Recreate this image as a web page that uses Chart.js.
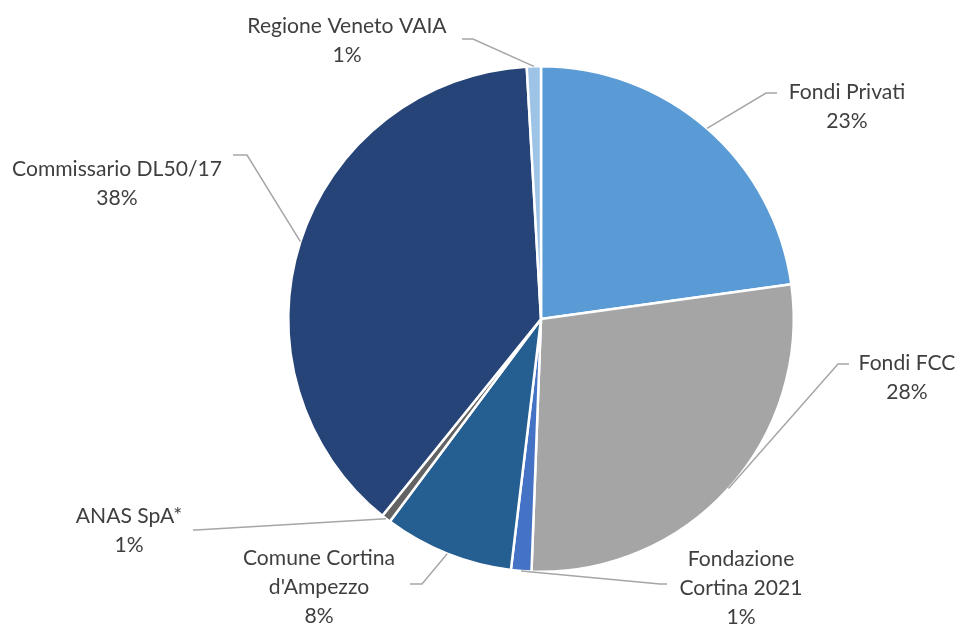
<!DOCTYPE html>
<html>
<head>
<meta charset="utf-8">
<script src="https://cdn.jsdelivr.net/npm/chart.js@4/dist/chart.umd.min.js"></script>
<style>
html,body{margin:0;padding:0;background:#fff;}
#wrap{width:958px;height:624px;position:relative;}
</style>
</head>
<body>
<div id="wrap"><canvas id="c" width="958" height="624"></canvas></div>
<script>
const categories = ["Fondi Privati", "Fondi FCC", "Fondazione Cortina 2021", "Comune Cortina d'Ampezzo", "ANAS SpA*", "Commissario DL50/17", "Regione Veneto VAIA"];
const labelLines = [["Fondi Privati"], ["Fondi FCC"], ["Fondazione", "Cortina 2021"], ["Comune Cortina", "d'Ampezzo"], ["ANAS SpA*"], ["Commissario DL50/17"], ["Regione Veneto VAIA"]];
const values = [22.8, 27.8, 1.3, 8.3, 0.6, 38.3, 0.9];
const colors = ["#5B9BD5", "#A5A5A5", "#4472C4", "#255E91", "#636363", "#264478", "#9DC3E6"];

// label placement (centre x, first-line y) and leader elbow/end points
const labelPos = [
  {x:847, y:92,  elbow:[766,93],  end:[777,93]},
  {x:907, y:363, elbow:[838,364], end:[849,364]},
  {x:741, y:559, elbow:[660,584], end:[667,584]},
  {x:319, y:558, elbow:[422,584], end:[410,584]},
  {x:129, y:516, elbow:[196,530], end:[193,530]},
  {x:117, y:169, elbow:[247,155], end:[233,155]},
  {x:347, y:26,  elbow:[473,39],  end:[462,39]}
];

const labelPlugin = {
  id: 'pieLabels',
  afterDatasetsDraw(chart) {
    const ctx = chart.ctx;
    const meta = chart.getDatasetMeta(0);
    const total = values.reduce((a,b)=>a+b,0);
    ctx.save();
    ctx.font = '22px Lato';
    const w = ctx.measureText('Commissario DL50/17').width;
    const fs = 22 * 210 / w;
    meta.data.forEach((arc, i) => {
      const p = arc.getProps(['x','y','startAngle','endAngle','outerRadius'], true);
      const mid = (p.startAngle + p.endAngle) / 2;
      const ax = p.x + Math.cos(mid) * p.outerRadius;
      const ay = p.y + Math.sin(mid) * p.outerRadius;
      const lp = labelPos[i];
      ctx.strokeStyle = '#A6A6A6';
      ctx.lineWidth = 1.5;
      ctx.beginPath();
      ctx.moveTo(ax, ay);
      ctx.lineTo(lp.elbow[0], lp.elbow[1]);
      ctx.lineTo(lp.end[0], lp.end[1]);
      ctx.stroke();
      ctx.fillStyle = '#3F3F3F';
      ctx.font = fs.toFixed(2) + 'px Lato';
      ctx.textAlign = 'center';
      ctx.textBaseline = 'middle';
      const lines = labelLines[i].concat([Math.round(values[i] / total * 100) + '%']);
      lines.forEach((t, k) => ctx.fillText(t, lp.x, lp.y + k * 29));
    });
    ctx.restore();
  }
};

new Chart(document.getElementById('c'), {
  type: 'pie',
  data: {
    labels: categories,
    datasets: [{
      data: values,
      backgroundColor: colors,
      borderColor: '#ffffff',
      borderWidth: 2.5
    }]
  },
  options: {
    responsive: false,
    animation: false,
    layout: { padding: { left: 287, right: 163, top: 65, bottom: 51 } },
    plugins: { legend: { display: false }, tooltip: { enabled: false } }
  },
  plugins: [labelPlugin]
});
</script>
</body>
</html>
